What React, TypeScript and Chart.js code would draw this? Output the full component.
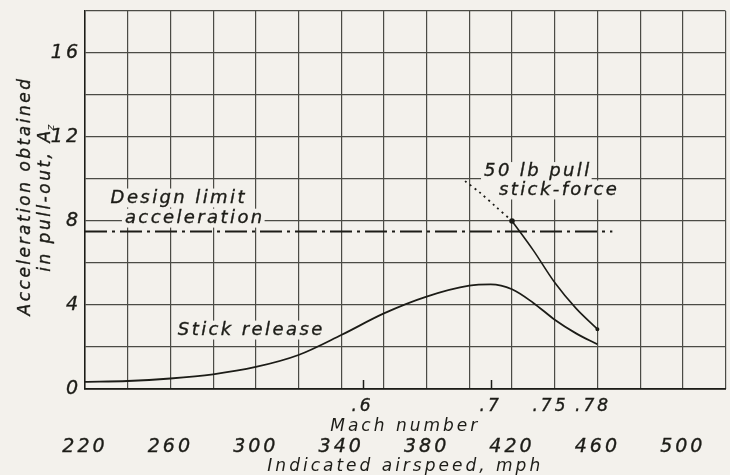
import React, { useEffect, useRef } from 'react';
import { Chart, registerables } from 'chart.js';

Chart.register(...registerables);

const BG = '#f3f1ec';
const INK = '#1c1c17';
const GRID = '#4b4b45';
const FONT = "'DejaVu Sans', sans-serif";

// Indicated airspeed axis (mph)
const mphMin = 220;
const mphMax = 520;
const mphStep = 20;
const mphLabelEvery = 40;

// Acceleration axis
const accMin = 0;
const accMax = 18;
const accStep = 2;
const accLabelEvery = 4;

// Mach number scale, located by indicated airspeed (mph)
const machLabels = ['.6', '.7', '.75', '.78'];
const machMph = [350, 410, 438, 458];
const machTickMarks = ['.6', '.7'];

// Stick release curve
const releaseMph = [220, 240, 260, 280, 300, 320, 340, 360, 380, 400, 410, 420, 430, 440, 450, 460];
const releaseAcc = [0.34, 0.38, 0.5, 0.7, 1.05, 1.62, 2.57, 3.6, 4.4, 4.92, 4.98, 4.75, 4.1, 3.3, 2.65, 2.13];

// 50 lb pull stick-force curve
const forceMph = [420, 430, 440, 450, 460];
const forceAcc = [8.0, 6.6, 5.07, 3.84, 2.85];

// 50 lb pull, dotted extension
const pullMph = [398, 405, 412, 420];
const pullAcc = [9.9, 9.35, 8.72, 8.0];

// Design limit acceleration
const limitMph = [220, 467];
const limitAcc = [7.5, 7.5];

// Notes (anchored in data units: mph, acceleration at text baseline)
const noteTexts = ['Design limit', 'acceleration', 'Stick release', '50 lb pull', 'stick-force'];
const noteMph = [232, 238.7, 263.5, 406.9, 413.9];
const noteAcc = [8.86, 7.9, 2.57, 10.12, 9.24];

const yTitle1 = 'Acceleration obtained';
const yTitle2 = 'in pull-out, A';
const yTitle2Sub = 'z';

const pts = (xs: number[], ys: number[]) => xs.map((x, i) => ({ x, y: ys[i] }));

const paperPlugin = {
  id: 'paper',
  beforeDraw(chart: any) {
    const ctx = chart.ctx;
    ctx.save();
    ctx.fillStyle = BG;
    ctx.fillRect(0, 0, chart.width, chart.height);
    ctx.restore();
    ctx.letterSpacing = '3px';
  },
  afterDatasetsDraw(chart: any) {
    const ctx = chart.ctx;
    const sx = chart.scales.x;
    const sy = chart.scales.y;
    const area = chart.chartArea;
    ctx.save();
    // Mach tick marks (short, upward from the axis)
    ctx.strokeStyle = INK;
    ctx.lineWidth = 1.5;
    machTickMarks.forEach((lbl) => {
      const v = machMph[machLabels.indexOf(lbl)];
      const px = Math.round(sx.getPixelForValue(v)) + 0.5;
      ctx.beginPath();
      ctx.moveTo(px, area.bottom);
      ctx.lineTo(px, area.bottom - 9);
      ctx.stroke();
    });
    // Notes
    const size = 18;
    ctx.font = `italic 400 ${size}px ${FONT}`;
    ctx.letterSpacing = '2.4px';
    ctx.textAlign = 'left';
    ctx.textBaseline = 'alphabetic';
    noteTexts.forEach((t, i) => {
      const x = sx.getPixelForValue(noteMph[i]);
      const y = sy.getPixelForValue(noteAcc[i]);
      const w = ctx.measureText(t).width;
      ctx.fillStyle = BG;
      ctx.fillRect(x - 3, y - size * 0.8, w + 3, size * 1.05);
    });
    ctx.strokeStyle = INK;
    ctx.lineWidth = 0.35;
    noteTexts.forEach((t, i) => {
      const x = sx.getPixelForValue(noteMph[i]);
      const y = sy.getPixelForValue(noteAcc[i]);
      ctx.fillStyle = INK;
      ctx.fillText(t, x, y);
      ctx.strokeText(t, x, y);
    });
    // Y axis title, two lines rotated
    ctx.letterSpacing = '2.5px';
    const cy = (area.top + area.bottom) / 2 - 4;
    ctx.translate(0, cy);
    ctx.rotate(-Math.PI / 2);
    ctx.fillStyle = INK;
    ctx.font = `italic 400 17px ${FONT}`;
    ctx.textAlign = 'center';
    ctx.textBaseline = 'middle';
    ctx.fillText(yTitle1, 0, 26);
    ctx.strokeText(yTitle1, 0, 26);
    const w2 = ctx.measureText(yTitle2).width;
    ctx.font = `italic 400 11px ${FONT}`;
    const wz = ctx.measureText(yTitle2Sub).width;
    const start = -(w2 + wz) / 2;
    ctx.font = `italic 400 17px ${FONT}`;
    ctx.textAlign = 'left';
    ctx.fillText(yTitle2, start, 46);
    ctx.strokeText(yTitle2, start, 46);
    ctx.font = `italic 400 11px ${FONT}`;
    ctx.fillText(yTitle2Sub, start + w2 - 2, 51);
    ctx.restore();
    ctx.letterSpacing = '3px';
  },
};

const tickFont = { family: FONT, size: 19, style: 'italic' as const, weight: 400, lineHeight: 1 };
const titleFont = { family: FONT, size: 17, style: 'italic' as const, weight: 400, lineHeight: 1 };

export default function App() {
  const ref = useRef<HTMLCanvasElement>(null);
  useEffect(() => {
    if (!ref.current) return;
    const line = { borderColor: INK, backgroundColor: INK, fill: false, pointRadius: 0, pointHoverRadius: 0 };
    const chart = new Chart(ref.current, {
      type: 'line',
      data: {
        datasets: [
          {
            ...line,
            label: 'Stick release',
            data: pts(releaseMph, releaseAcc),
            borderWidth: 1.8,
            cubicInterpolationMode: 'monotone',
          },
          {
            ...line,
            label: '50 lb pull stick-force',
            data: pts(forceMph, forceAcc),
            borderWidth: 1.6,
            tension: 0.35,
            pointRadius: [2, 0, 0, 0, 1.2],
          },
          {
            ...line,
            label: '50 lb pull (extended)',
            data: pts(pullMph, pullAcc),
            borderWidth: 1.8,
            borderDash: [2, 4],
            tension: 0.3,
          },
          {
            ...line,
            label: 'Design limit acceleration',
            data: pts(limitMph, limitAcc),
            borderWidth: 1.8,
            borderDash: [22, 5, 3, 5],
            tension: 0,
          },
        ],
      } as any,
      options: {
        animation: false,
        responsive: false,
        events: [],
        layout: { padding: { top: 11, right: 3, left: 0, bottom: 0 } },
        plugins: { legend: { display: false }, tooltip: { enabled: false } },
        scales: {
          x: {
            type: 'linear',
            position: 'bottom',
            weight: 1,
            min: mphMin,
            max: mphMax,
            ticks: {
              stepSize: mphStep,
              autoSkip: false,
              maxRotation: 0,
              padding: 4.5,
              color: INK,
              font: tickFont,
              textStrokeColor: INK,
              textStrokeWidth: 0.35,
              callback: (v: any) => ((Number(v) - mphMin) % mphLabelEvery === 0 ? String(v) : ''),
            },
            grid: { color: GRID, lineWidth: 1.2, drawTicks: false },
            border: { display: false },
            title: { display: true, text: 'Indicated airspeed, mph', color: INK, font: titleFont, padding: { top: 0, bottom: -0.5 } },
            afterFit: (s: any) => { s.height = 42; },
          },
          mach: {
            type: 'linear',
            position: 'bottom',
            weight: 0,
            min: mphMin,
            max: mphMax,
            afterBuildTicks: (s: any) => { s.ticks = machMph.map((v) => ({ value: v })); },
            ticks: {
              autoSkip: false,
              maxRotation: 0,
              padding: 9,
              color: INK,
              font: { ...tickFont, size: 17 },
              textStrokeColor: INK,
              textStrokeWidth: 0.35,
              callback: (_v: any, i: number) => machLabels[i],
            },
            grid: { display: false, drawTicks: false },
            border: { display: true, color: INK, width: 1.8 },
            title: { display: true, text: 'Mach number', color: INK, font: titleFont, padding: { top: 0, bottom: -2 } },
            afterFit: (s: any) => { s.height = 44; },
          },
          y: {
            type: 'linear',
            min: accMin,
            max: accMax,
            ticks: {
              stepSize: accStep,
              autoSkip: false,
              padding: 4,
              color: INK,
              font: { ...tickFont, lineHeight: 0.4 },
              textStrokeColor: INK,
              textStrokeWidth: 0.35,
              callback: (v: any) => (Number(v) % accLabelEvery === 0 ? String(v) : ''),
            },
            grid: { color: GRID, lineWidth: 1.2, drawTicks: false },
            border: { display: true, color: INK, width: 1.5 },
            afterFit: (s: any) => { s.width = 85; },
          },
        },
      } as any,
      plugins: [paperPlugin],
    });
    return () => chart.destroy();
  }, []);
  return (
    <div style={{ position: 'fixed', left: 0, top: 0, width: 730, height: 475, background: BG }}>
      <canvas ref={ref} width={730} height={475} style={{ display: 'block' }} />
    </div>
  );
}
